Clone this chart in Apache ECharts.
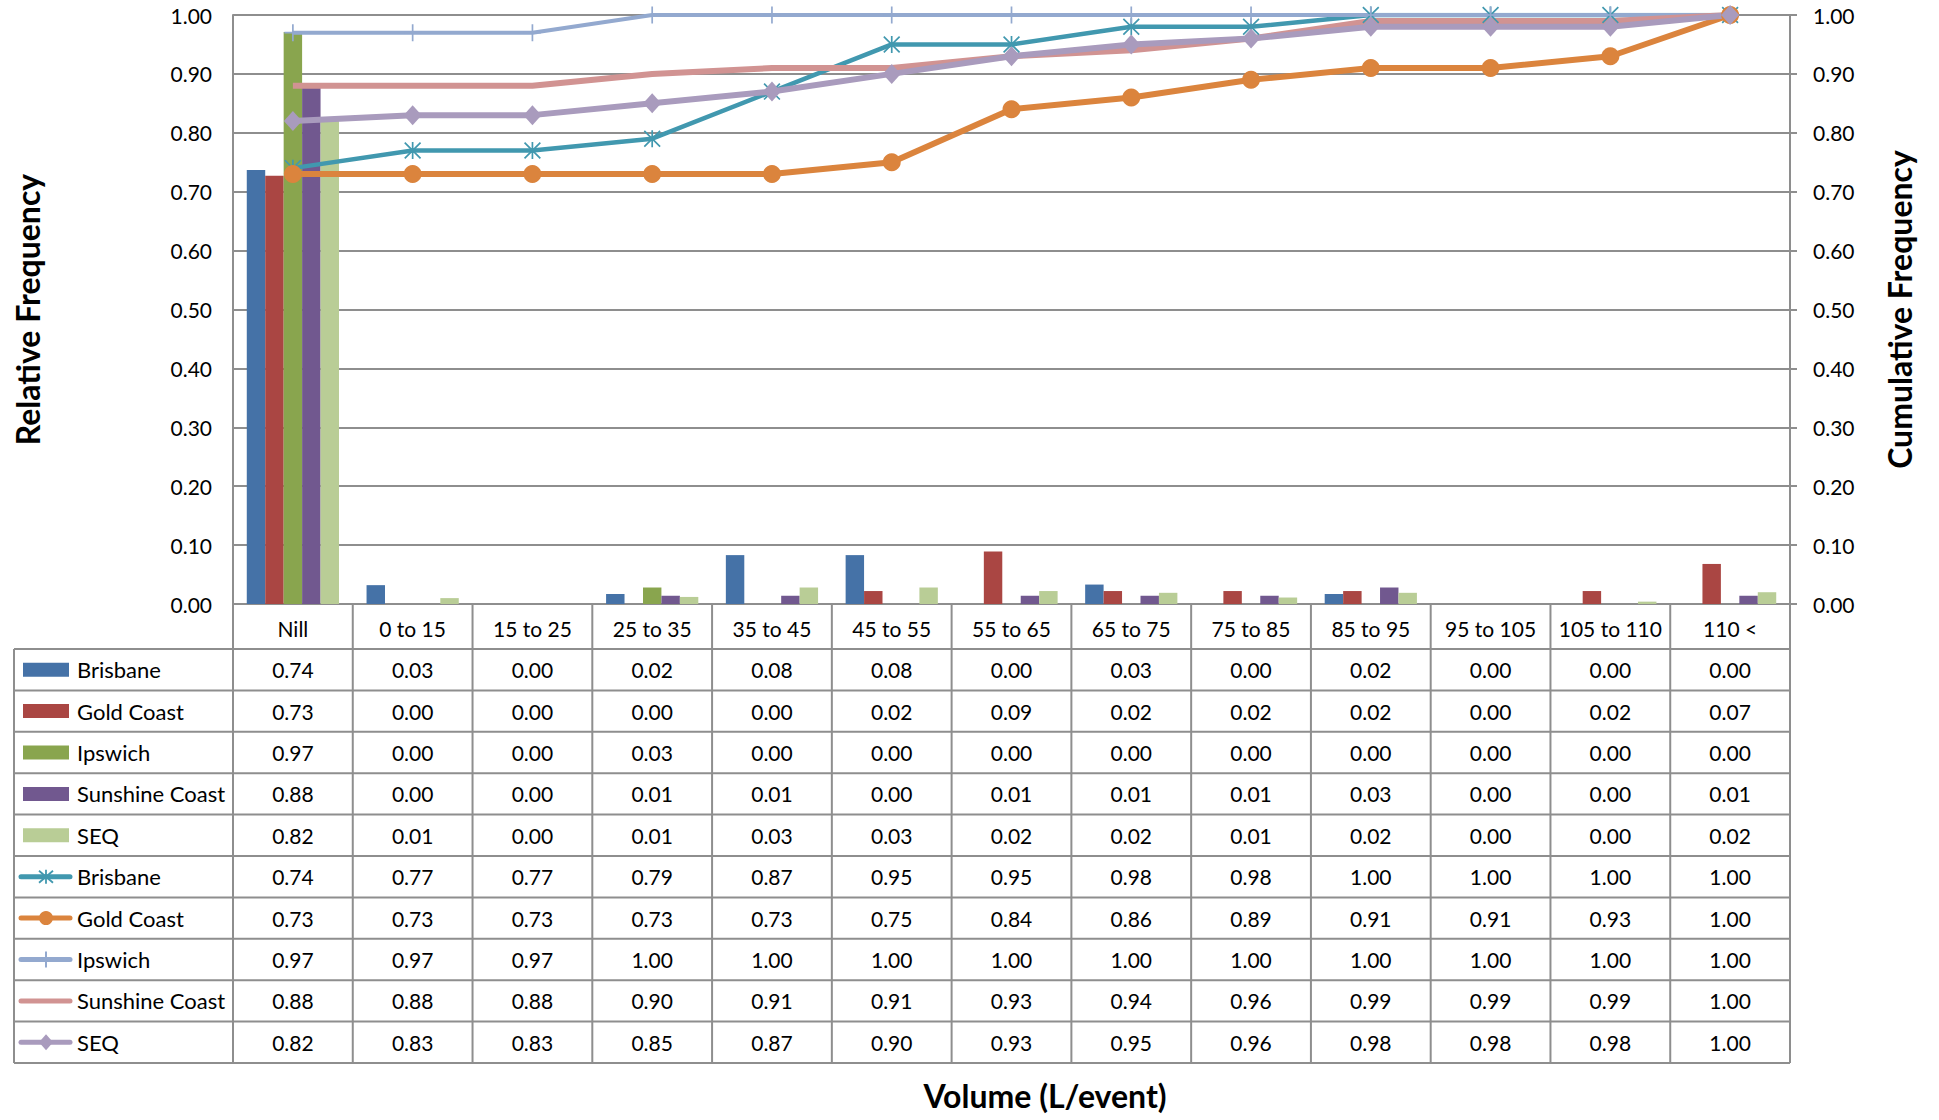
<!DOCTYPE html>
<html>
<head>
<meta charset="utf-8">
<script src="https://cdn.jsdelivr.net/npm/echarts@6/dist/echarts.min.js"></script>
<style>
html, body { margin: 0; padding: 0; background: #fff; }
#chart { width: 1939px; height: 1120px; }
</style>
</head>
<body>
<div id="chart"></div>
<script>
// categories (volume bins)
var categories = ['Nill', '0 to 15', '15 to 25', '25 to 35', '35 to 45', '45 to 55', '55 to 65',
    '65 to 75', '75 to 85', '85 to 95', '95 to 105', '105 to 110', '110 <'];

// relative frequency (bars)
var relBrisbane = [0.737, 0.032, 0.00, 0.017, 0.083, 0.083, 0.00, 0.033, 0.00, 0.017, 0.00, 0.00, 0.00];
var relGoldCoast = [0.727, 0.00, 0.00, 0.00, 0.00, 0.022, 0.089, 0.022, 0.022, 0.022, 0.00, 0.022, 0.068];
var relIpswich = [0.971, 0.00, 0.00, 0.028, 0.00, 0.00, 0.00, 0.00, 0.00, 0.00, 0.00, 0.00, 0.00];
var relSunshine = [0.878, 0.00, 0.00, 0.014, 0.014, 0.00, 0.014, 0.014, 0.014, 0.028, 0.00, 0.00, 0.014];
var relSEQ = [0.822, 0.010, 0.00, 0.012, 0.028, 0.028, 0.022, 0.019, 0.011, 0.019, 0.00, 0.004, 0.02];

// cumulative frequency (lines)
var cumBrisbane = [0.74, 0.77, 0.77, 0.79, 0.87, 0.95, 0.95, 0.98, 0.98, 1.00, 1.00, 1.00, 1.00];
var cumGoldCoast = [0.73, 0.73, 0.73, 0.73, 0.73, 0.75, 0.84, 0.86, 0.89, 0.91, 0.91, 0.93, 1.00];
var cumIpswich = [0.97, 0.97, 0.97, 1.00, 1.00, 1.00, 1.00, 1.00, 1.00, 1.00, 1.00, 1.00, 1.00];
var cumSunshine = [0.88, 0.88, 0.88, 0.90, 0.91, 0.91, 0.93, 0.94, 0.96, 0.99, 0.99, 0.99, 1.00];
var cumSEQ = [0.82, 0.83, 0.83, 0.85, 0.87, 0.90, 0.93, 0.95, 0.96, 0.98, 0.98, 0.98, 1.00];

var FONT = 'Lato, "Open Sans", sans-serif';
var GRAY = '#8e8e8e';
var GRID_TOP = 15, AXIS_Y = 604;
var TABLE_LEFT = 14, TABLE_TOP = 649, ROW_H = 41.4;

var ASTERISK = 'path://M9,0L11,0L11,20L9,20Z M1.4,0L20,18.6L18.6,20L0,1.4Z M18.6,0L20,1.4L1.4,20L0,18.6Z';
var PLUS = 'path://M9,0L11,0L11,20L9,20Z M0,9L20,9L20,11L0,11Z';

// one entry per table row (same order as the data table)
var rows = [
    { name: 'Brisbane', type: 'bar', data: relBrisbane, color: '#4572a7' },
    { name: 'Gold Coast', type: 'bar', data: relGoldCoast, color: '#aa4643' },
    { name: 'Ipswich', type: 'bar', data: relIpswich, color: '#89a54e' },
    { name: 'Sunshine Coast', type: 'bar', data: relSunshine, color: '#71588f' },
    { name: 'SEQ', type: 'bar', data: relSEQ, color: '#b9cd96' },
    { name: 'Brisbane', type: 'line', data: cumBrisbane, color: '#4198af', mark: 'asterisk', size: 17, width: 4.5 },
    { name: 'Gold Coast', type: 'line', data: cumGoldCoast, color: '#db843d', mark: 'circle', size: 18, width: 6 },
    { name: 'Ipswich', type: 'line', data: cumIpswich, color: '#93a9cf', mark: 'plus', size: 17, width: 4 },
    { name: 'Sunshine Coast', type: 'line', data: cumSunshine, color: '#d19392', mark: 'none', size: 0, width: 6 },
    { name: 'SEQ', type: 'line', data: cumSEQ, color: '#a99bbd', mark: 'diamond', size: [18, 20], width: 6 }
];

function symbolOf(mark) {
    if (mark === 'asterisk') return ASTERISK;
    if (mark === 'plus') return PLUS;
    return mark;
}

var series = rows.map(function (r) {
    if (r.type === 'bar') {
        return {
            name: r.name, type: 'bar', data: r.data, yAxisIndex: 0,
            barGap: 0, barCategoryGap: '23%',
            itemStyle: { color: r.color }
        };
    }
    return {
        name: r.name, type: 'line', data: r.data, yAxisIndex: 1, z: 3,
        symbol: symbolOf(r.mark), symbolSize: r.size, showSymbol: r.mark !== 'none',
        lineStyle: { color: r.color, width: r.width },
        itemStyle: { color: r.color, borderWidth: 0 }
    };
});

var valueLabel = function (v) { return v.toFixed(2); };

var chart = echarts.init(document.getElementById('chart'), null, { renderer: 'svg' });

chart.setOption({
    animation: false,
    backgroundColor: '#fff',
    textStyle: { fontFamily: FONT },
    title: {
        text: 'Volume (L/event)',
        left: 1040, top: 1074, textAlign: 'center',
        textStyle: { fontFamily: FONT, fontSize: 32, fontWeight: 'bold', color: '#000' }
    },
    grid: { left: 233, right: 149, top: GRID_TOP, bottom: 1120 - AXIS_Y },
    xAxis: {
        type: 'category',
        data: categories,
        axisLine: { lineStyle: { color: GRAY, width: 2 } },
        axisTick: { show: false },
        axisLabel: { fontSize: 21, color: '#000', margin: 14, lineHeight: 21, interval: 0 }
    },
    yAxis: [{
        type: 'value', min: 0, max: 1, interval: 0.1,
        name: 'Relative Frequency', nameLocation: 'middle', nameRotate: 90, nameGap: 190,
        nameTextStyle: { fontSize: 32, fontWeight: 'bold', color: '#000' },
        axisLine: { show: true, lineStyle: { color: GRAY, width: 2 } },
        axisTick: { show: false },
        axisLabel: { fontSize: 21, color: '#000', margin: 21, formatter: valueLabel },
        splitLine: { lineStyle: { color: GRAY, width: 2 } }
    }, {
        type: 'value', min: 0, max: 1, interval: 0.1, position: 'right',
        name: 'Cumulative Frequency', nameLocation: 'middle', nameRotate: 90, nameGap: 93,
        nameTextStyle: { fontSize: 32, fontWeight: 'bold', color: '#000' },
        axisLine: { show: true, lineStyle: { color: GRAY, width: 2 } },
        axisTick: { show: true, length: 7, lineStyle: { color: GRAY, width: 2 } },
        axisLabel: { fontSize: 21, color: '#000', margin: 23, formatter: valueLabel },
        splitLine: { show: false }
    }],
    series: series
});

// small marker drawn inside the table's legend key
function keyMarker(mark, color, cx, cy) {
    var thin = { stroke: color, lineWidth: 1.8 };
    if (mark === 'circle') {
        return [{ type: 'circle', shape: { cx: cx, cy: cy, r: 7 }, style: { fill: color } }];
    }
    if (mark === 'diamond') {
        return [{ type: 'polygon', shape: { points: [[cx, cy - 8], [cx + 7, cy], [cx, cy + 8], [cx - 7, cy]] }, style: { fill: color } }];
    }
    if (mark === 'asterisk') {
        return [
            { type: 'line', shape: { x1: cx, y1: cy - 7, x2: cx, y2: cy + 7 }, style: thin },
            { type: 'line', shape: { x1: cx - 7, y1: cy - 6, x2: cx + 7, y2: cy + 6 }, style: thin },
            { type: 'line', shape: { x1: cx + 7, y1: cy - 6, x2: cx - 7, y2: cy + 6 }, style: thin }
        ];
    }
    if (mark === 'plus') {
        return [{ type: 'line', shape: { x1: cx, y1: cy - 8, x2: cx, y2: cy + 8 }, style: { stroke: color, lineWidth: 2 } }];
    }
    return [];
}

// data table under the plot, laid out on the category axis
function buildTable() {
    var centers = categories.map(function (c) {
        return chart.convertToPixel({ xAxisIndex: 0 }, c);
    });
    var bw = centers[1] - centers[0];
    var left = centers[0] - bw / 2;
    var right = left + bw * categories.length;
    var bottom = TABLE_TOP + ROW_H * rows.length;
    var els = [];
    var lineStyle = { stroke: GRAY, lineWidth: 2 };

    for (var i = 0; i <= categories.length; i++) {
        var x = left + i * bw;
        els.push({ type: 'line', shape: { x1: x, y1: AXIS_Y, x2: x, y2: bottom }, style: lineStyle });
    }
    els.push({ type: 'line', shape: { x1: TABLE_LEFT, y1: TABLE_TOP, x2: TABLE_LEFT, y2: bottom }, style: lineStyle });
    for (var k = 0; k <= rows.length; k++) {
        var y = TABLE_TOP + k * ROW_H;
        els.push({ type: 'line', shape: { x1: TABLE_LEFT, y1: y, x2: right, y2: y }, style: lineStyle });
    }

    rows.forEach(function (r, ri) {
        var cy = TABLE_TOP + ri * ROW_H + ROW_H / 2;
        // legend key
        if (r.type === 'bar') {
            els.push({ type: 'rect', shape: { x: 23, y: cy - 7, width: 46, height: 14 }, style: { fill: r.color } });
        } else {
            els.push({ type: 'line', shape: { x1: 21, y1: cy, x2: 70, y2: cy }, style: { stroke: r.color, lineWidth: 5, lineCap: 'round' } });
            els = els.concat(keyMarker(r.mark, r.color, 46, cy));
        }
        els.push({
            type: 'text', x: 77, y: cy,
            style: { text: r.name, fontFamily: FONT, fontSize: 22, fill: '#000', verticalAlign: 'middle' }
        });
        r.data.forEach(function (v, ci) {
            els.push({
                type: 'text', x: centers[ci], y: cy,
                style: { text: v.toFixed(2), fontFamily: FONT, fontSize: 21, fill: '#000', align: 'center', verticalAlign: 'middle' }
            });
        });
    });

    els.forEach(function (e) { e.silent = true; });
    chart.setOption({ graphic: { elements: els } });
}

buildTable();
</script>
</body>
</html>
